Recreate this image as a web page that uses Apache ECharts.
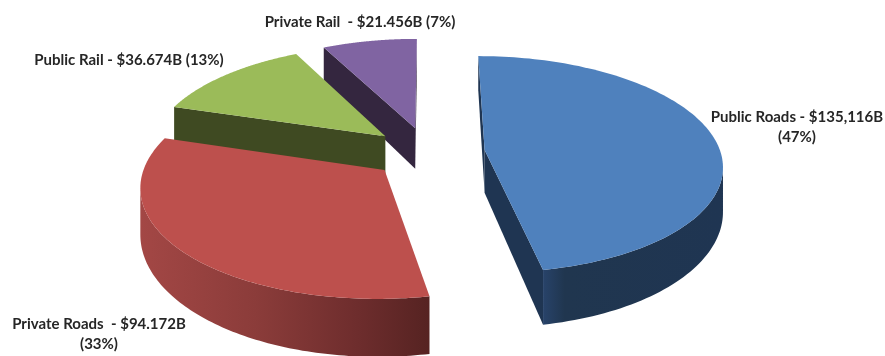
<!DOCTYPE html>
<html>
<head>
<meta charset="utf-8">
<style>html,body{margin:0;padding:0;background:#fff}#chart{width:885px;height:356px}</style>
<script src="https://cdn.jsdelivr.net/npm/echarts@6/dist/echarts.min.js"></script>
</head>
<body>
<div id="chart"></div>
<script>
// Transportation spending by mode, drawn as an exploded perspective pie.
const categories = ['Public Roads', 'Private Roads', 'Public Rail', 'Private Rail'];
const spending = [135.116, 94.172, 36.674, 21.456];
const labelTexts = [
  'Public Roads - $135,116B\n(47%)',
  'Private Roads  - $94.172B\n(33%)',
  'Public Rail - $36.674B (13%)',
  'Private Rail  - $21.456B (7%)'
];

const topColors = ['#4f81bd', '#bd504d', '#9bbb59', '#8064a2'];
const cutColors = ['#1f3552', '#5a2322', '#3f4a22', '#34263f'];
// Outer wall shading, left to right across the visible rim.
const wallStops = [
  [[0, '#28436a'], [0.12, '#20364f'], [1, '#1f3552']],
  [[0, '#a34745'], [0.4, '#8b3c3a'], [0.75, '#6e2d2d'], [1, '#562322']],
  [[0, '#3f4a22'], [1, '#3f4a22']],
  [[0, '#34263f'], [1, '#34263f']]
];
const labelAnchors = [[797, 127], [99, 334], [129, 60], [360, 22]];

// Camera model: ground-plane points are projected towards a vanishing point.
const view = {
  pivotX: 428, pivotY: 152.5, vanishX: 430, horizon: 815,
  radius: 236, squash: 0.453, explode: 57, thickness: 43, thicknessPower: 1.8
};
const total = spending.reduce((a, b) => a + b, 0);

function projectGround(X, Y) {
  const s = 1 / (1 - Y / view.horizon);
  return { x: view.vanishX + X * s, y: view.pivotY + Y * s, drop: view.thickness * Math.pow(s, view.thicknessPower) };
}
function project(cx, cy, theta) {
  return projectGround(
    cx + view.radius * Math.sin(theta),
    cy - view.radius * view.squash * Math.cos(theta)
  );
}

function renderSlice(params, api) {
  const i = params.dataIndex;
  const value = api.value(0);
  let before = 0;
  for (let j = 0; j < i; j++) before += spending[j];
  const a0 = before / total * Math.PI * 2;
  const a1 = a0 + value / total * Math.PI * 2;
  const mid = (a0 + a1) / 2;
  const cx = view.pivotX - view.vanishX + view.explode * Math.sin(mid);
  const cy = -view.explode * view.squash * Math.cos(mid);
  const apex = projectGround(cx, cy);
  const z = 10 * (categories.length - i);
  const children = [];
  const poly = (pts, fill, zz) => children.push({
    type: 'polygon', z2: z + zz,
    shape: { points: pts },
    style: { fill: fill, lineWidth: 0 }
  });
  const face = (p) => poly([[apex.x, apex.y], [p.x, p.y], [p.x, p.y + p.drop], [apex.x, apex.y + apex.drop]], cutColors[i], 0);

  const first = project(cx, cy, a0);
  const last = project(cx, cy, a1);
  if (first.x < apex.x) face(first);
  if (last.x > apex.x) face(last);

  const steps = 120;
  const rim = [];
  for (let k = 0; k <= steps; k++) rim.push(project(cx, cy, a0 + (a1 - a0) * k / steps));

  // Only the part of the rim running leftwards on screen faces the camera.
  const front = rim.filter((p, k) => (k < steps && rim[k + 1].x < p.x) || (k > 0 && p.x < rim[k - 1].x));
  if (front.length > 1) {
    const outline = front.map(p => [p.x, p.y]).concat(front.slice().reverse().map(p => [p.x, p.y + p.drop]));
    const fill = new echarts.graphic.LinearGradient(0, 0, 1, 0,
      wallStops[i].map(s => ({ offset: s[0], color: s[1] })));
    poly(outline, fill, 1);
  }
  poly([[apex.x, apex.y]].concat(rim.map(p => [p.x, p.y])), topColors[i], 2);
  return { type: 'group', children: children };
}

const chart = echarts.init(document.getElementById('chart'), null, { renderer: 'canvas' });
chart.setOption({
  animation: false,
  backgroundColor: '#fff',
  series: [{
    type: 'custom',
    coordinateSystem: 'none',
    silent: true,
    renderItem: renderSlice,
    data: spending.map((v, i) => ({ name: categories[i], value: [v] }))
  }],
  graphic: labelTexts.map((t, i) => ({
    type: 'text',
    x: labelAnchors[i][0],
    y: labelAnchors[i][1],
    silent: true,
    style: {
      text: t,
      align: 'center',
      verticalAlign: 'middle',
      fontFamily: 'Lato',
      fontWeight: 'bold',
      fontSize: 15,
      lineHeight: 20,
      fill: '#262626'
    }
  }))
});
</script>
</body>
</html>
